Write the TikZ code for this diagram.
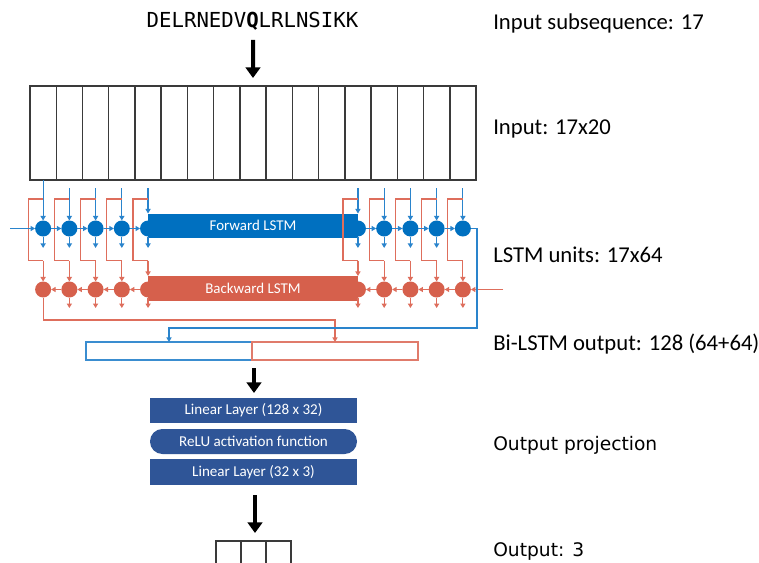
\documentclass[tikz,border=0pt]{standalone}
\usepackage{fontspec}
\setmainfont{Carlito}
\newfontfamily\seqfont{DejaVu Sans Mono}
\newfontfamily\dejavu{DejaVu Sans}
\usetikzlibrary{arrows.meta}
\definecolor{fwd}{HTML}{0070C0}
\definecolor{bwd}{HTML}{D6604C}
\definecolor{fwdline}{HTML}{2A84CC}
\definecolor{bwdline}{HTML}{DE6E5C}
\definecolor{fwdbox}{HTML}{3A8DD0}
\definecolor{bwdbox}{HTML}{E07B6B}
\definecolor{proj}{HTML}{2F5597}
\definecolor{gridc}{HTML}{3A3A3A}

\begin{document}
\begin{tikzpicture}[x=0.75pt,y=-0.75pt,
  cell/.style={draw=gridc, line width=1.1pt, minimum width=19.68pt, minimum height=70.5pt, inner sep=0pt, outer sep=0pt},
  fcirc/.style={circle, fill=fwd, minimum size=12pt, inner sep=0pt, outer sep=0pt},
  bcirc/.style={circle, fill=bwd, minimum size=12pt, inner sep=0pt, outer sep=0pt},
  lstmbox/.style={rectangle, minimum width=157.5pt, minimum height=18pt, inner sep=0pt, outer sep=0pt, text=white, font=\fontsize{11.2}{13}\selectfont},
  smalltip/.style={-{Triangle[length=3.4pt,width=3.8pt]}},
  farrow/.style={draw=fwdline, line width=0.9pt, smalltip},
  barrow/.style={draw=bwdline, line width=0.9pt, smalltip},
  fline/.style={draw=fwdline, line width=0.9pt},
  bline/.style={draw=bwdline, line width=0.9pt},
  outbox/.style={rectangle, line width=1.1pt, minimum width=124.5pt, minimum height=13.5pt, inner sep=0pt, outer sep=0pt},
  projbox/.style={rectangle, fill=proj, minimum width=155.25pt, inner sep=0pt, outer sep=0pt, text=white, font=\fontsize{11.3}{13}\selectfont},
  bigarrow/.style={draw=black, line width=3pt, -{Triangle[length=8pt,width=11pt]}},
  label/.style={anchor=base west, inner sep=0pt, font=\fontsize{17}{20}\selectfont},
  dlabel/.style={anchor=base west, inner sep=0pt, font=\dejavu\fontsize{14}{17}\selectfont},
  outcell/.style={draw=gridc, line width=1.1pt, minimum width=18.75pt, minimum height=30pt, inner sep=0pt, outer sep=0pt}
]
\useasboundingbox (0,0) rectangle (759,563);
\clip (0,0) rectangle (759,563);
\fill[white] (0,0) rectangle (759,563);

% amino-acid subsequence
\node[anchor=base, inner sep=0pt, font=\seqfont\fontsize{15.5}{18}\selectfont] (seq) at (252.5,28) {DELRNEDV{\bfseries Q}LRLNSIKK};

% one-hot input grid
\foreach \i in {1,...,17} {
  \pgfmathsetmacro\x{30+26.235*(\i-0.5)}
  \node[cell] (c\i) at (\x,133) {};
}

% LSTM chains
\node[lstmbox, fill=fwd] (fbox) at (253,225.5) {Forward LSTM};
\node[lstmbox, fill=bwd, minimum height=18.4pt] (bbox) at (253,288.25) {Backward LSTM};
\foreach \i in {1,2,3,4,5,13,14,15,16,17} {
  \pgfmathsetmacro\x{30+26.235*(\i-0.5)}
  \node[fcirc] (f\i) at (\x,228.5) {};
  \node[bcirc] (b\i) at (\x,289.5) {};
}

% inputs into the forward cells
\draw[farrow] (c1.south) -- (f1.north);
\foreach \i in {2,3,4,14,15,16,17}
  \draw[farrow] ([yshift=-6pt]c\i.south) -- (f\i.north);
\foreach \i in {5,13}
  \draw[farrow] ([yshift=-6pt]c\i.south) -- (c\i.south |- fbox.north);

% inputs branched to the backward cells
\foreach \i in {1,2,3,4,5,13,14,15,16,17} {
  \pgfmathsetmacro\x{30+26.235*(\i-0.5)}
  \coordinate (rt\i) at (\x,199);
  \coordinate (rk\i) at (\x,260.7);
  \draw[bline] (rt\i) -- (\x-15,199) -- (\x-15,260.7) -- (rk\i);
}
\foreach \i in {1,2,3,4,14,15,16,17}
  \draw[barrow] (rk\i) -- (b\i.north);
\foreach \i in {5,13}
  \draw[barrow] (rk\i) -- (rk\i |- bbox.north);

% forward recurrence
\coordinate (fin) at (10,228.5);
\draw[farrow] (fin) -- (f1.west);
\foreach \i/\j in {1/2,2/3,3/4,4/5,13/14,14/15,15/16,16/17}
  \draw[farrow] (f\i.east) -- (f\j.west);

% backward recurrence
\coordinate (bin) at (503,289.5);
\draw[barrow] (bin) -- (b17.east);
\foreach \i/\j in {1/2,2/3,3/4,4/5,13/14,14/15,15/16,16/17}
  \draw[barrow] (b\j.west) -- (b\i.east);

% per-step outputs
\foreach \i in {1,2,3,4,5,13,14,15,16}
  \draw[farrow] (f\i.south) -- ([yshift=-8.6pt]f\i.south);
\foreach \i in {2,3,4,5,13,14,15,16,17}
  \draw[barrow] (b\i.south) -- ([yshift=-7.9pt]b\i.south);

% concatenated Bi-LSTM output
\node[outbox, draw=fwdbox] (fout) at (169,351) {};
\node[outbox, draw=bwdbox] (bout) at (335,351) {};
\coordinate (rjoin) at (335,320);
\draw[barrow] (b1.south) |- (rjoin) -- (bout.north);
\coordinate (fjoin) at (477,328);
\draw[farrow] (f17.east) -| (fjoin) -| (fout.north);

% output projection
\node[projbox, minimum height=18.75pt] (lin1) at (253.5,410.5) {Linear Layer (128 x 32)};
\node[projbox, minimum height=18.75pt, rounded corners=9.3pt] (relu) at (253.5,441.5) {ReLU activation function};
\node[projbox, minimum height=19.5pt] (lin2) at (253.5,472) {Linear Layer (32 x 3)};

% output vector
\node[outcell] (o1) at (228.5,561) {};
\node[outcell] (o2) at (253.5,561) {};
\node[outcell] (o3) at (278.5,561) {};

% thick flow arrows
\coordinate (a1) at (253,40);
\draw[bigarrow] (a1) -- ([yshift=6pt]c9.north);
\coordinate (a2) at (254,368);
\draw[bigarrow] (a2) -- (a2 |- 0,393);
\coordinate (a3) at (255,495);
\draw[bigarrow] (a3) -- ([yshift=6pt]o2.north -| a3);

% stage labels
\node[label] (l1) at (493,29.3) {Input subsequence: 17};
\node[label] (l2) at (493,135) {Input: 17x20};
\node[label] (l3) at (493,262.3) {LSTM units: 17x64};
\node[label] (l4) at (493,350) {Bi-LSTM output: 128 (64+64)};
\node[dlabel] (l5) at (493,450.7) {Output projection};
\node[dlabel] (l6) at (493,556) {Output: 3};
\end{tikzpicture}
\end{document}
